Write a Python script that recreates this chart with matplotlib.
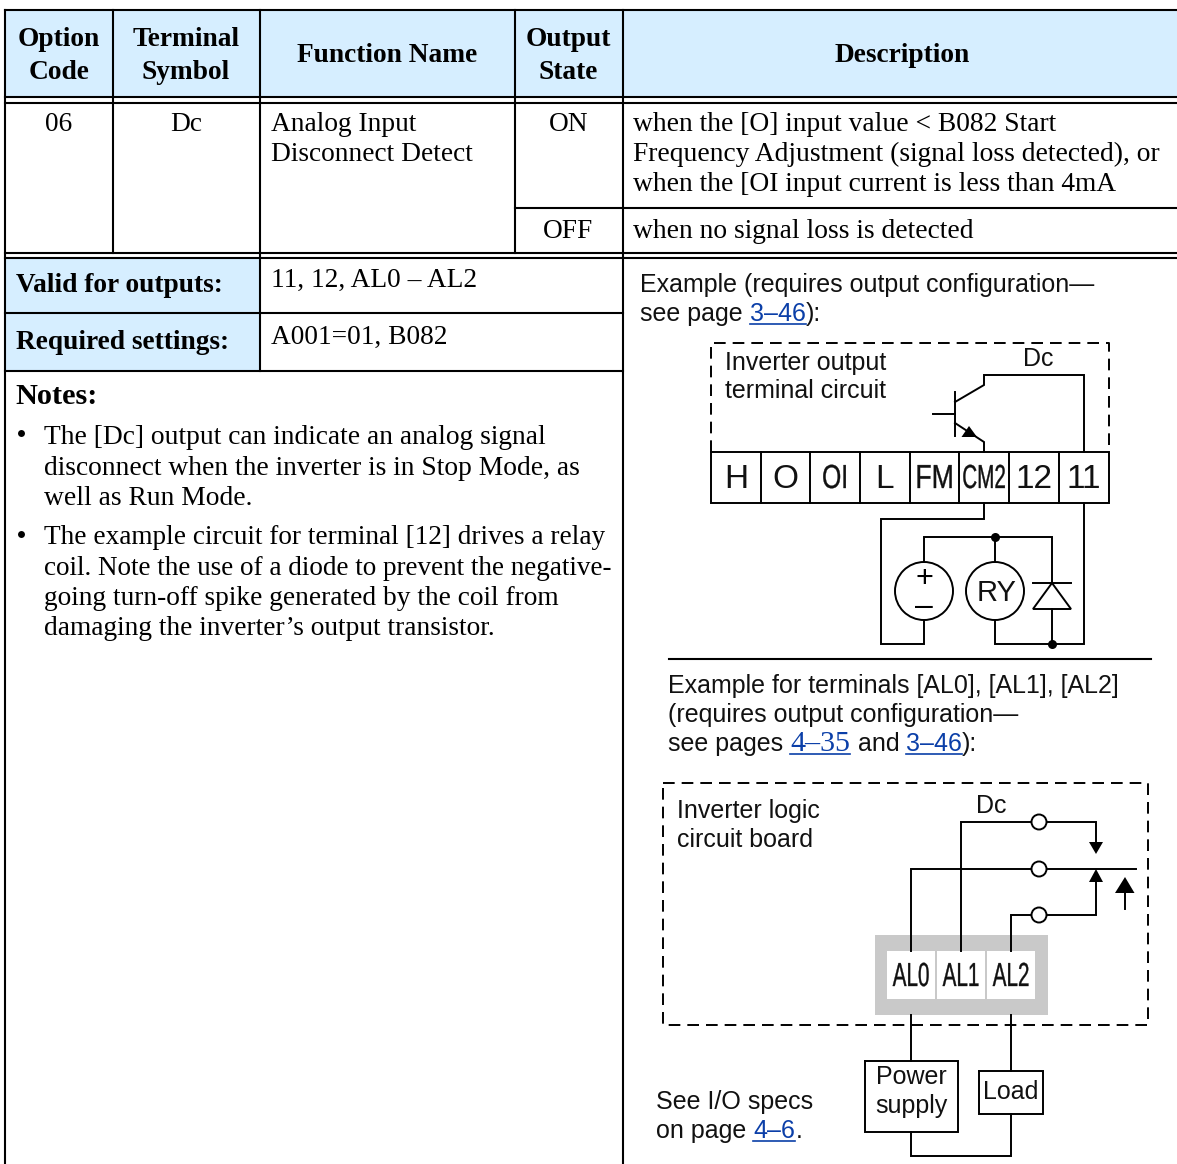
import matplotlib
matplotlib.use('Agg')
import matplotlib.pyplot as plt
import matplotlib.patheffects as pe
from matplotlib.patches import Rectangle, Circle, Polygon
from matplotlib.transforms import Affine2D

SERIF = 'Liberation Serif'
SANS = 'Liberation Sans'
BLUE = '#d6eeff'
LINK = '#0b3fa8'
WIRE = 1.4

# texts of the table
header_labels = ['Option\nCode', 'Terminal\nSymbol', 'Function Name', 'Output\nState', 'Description']
row_code = '06'
row_symbol = 'Dc'
row_function = ['Analog Input', 'Disconnect Detect']
row_states = ['ON', 'OFF']
desc_on = ['when the [O] input value < B082 Start',
           'Frequency Adjustment (signal loss detected), or',
           'when the [OI input current is less than 4mA']
desc_off = 'when no signal loss is detected'
valid_label = 'Valid for outputs:'
valid_value = '11, 12, AL0 – AL2'
required_label = 'Required settings:'
required_value = 'A001=01, B082'
notes_title = 'Notes:'
notes_first = ['The [Dc] output can indicate an analog signal',
               'disconnect when the inverter is in Stop Mode, as',
               'well as Run Mode.']
notes_second = ['The example circuit for terminal [12] drives a relay',
                'coil. Note the use of a diode to prevent the negative-',
                'going turn-off spike generated by the coil from',
                'damaging the inverter’s output transistor.']

# texts of the circuits
terminals = ['H', 'O', 'OI', 'L', 'FM', 'CM2', '12', '11']
terminal_squeeze = [1, 1, 0.74, 1, 0.8, 0.62, 1, 1]
relay_terminals = ['AL0', 'AL1', 'AL2']
box1_label = ['Inverter output', 'terminal circuit']
box2_label = ['Inverter logic', 'circuit board']


class Stretch(pe.AbstractPathEffect):
    # the condensed labels: a smaller font pulled up from its baseline
    def __init__(self, sy, base):
        super().__init__()
        self.sy = sy
        self.base = base

    def draw_path(self, renderer, gc, tpath, affine, rgbFace=None):
        a = affine + Affine2D().translate(0, -self.base).scale(1, self.sy).translate(0, self.base)
        gc.set_linewidth(0.25)
        renderer.draw_path(gc, tpath, a, rgbFace)


fig = plt.figure(figsize=(11.77, 11.64), dpi=100)
ax = fig.add_axes([0, 0, 1, 1])
ax.set_xlim(0, 1177)
ax.set_ylim(1164, 0)
ax.axis('off')


def line(xs, ys, lw=WIRE, **kw):
    ax.plot(xs, ys, color='black', lw=lw, solid_capstyle='projecting',
            solid_joinstyle='miter', **kw)


def tline(xs, ys):
    line(xs, ys, lw=1.5)


def serif(x, y, s, size=19.7, weight='normal', ha='left'):
    return ax.text(x, y, s, family=SERIF, fontsize=size, weight=weight, ha=ha, va='baseline')


def sans(x, y, s, size=18, ha='left', color='#111111'):
    return ax.text(x, y, s, family=SANS, fontsize=size, ha=ha, va='baseline', color=color)


def link(x, y, s, family=SANS, size=18):
    t = ax.text(x, y, s, family=family, fontsize=size, va='baseline', color=LINK)
    bb = t.get_window_extent(fig.canvas.get_renderer())
    ax.plot([bb.x0, bb.x1], [y + 3, y + 3], color=LINK, lw=1.2)


def squeezed(cx, y, s, size, sx):
    t = sans(cx, y, s, size=size * sx, ha='center')
    if sx < 1:
        t.set_path_effects([Stretch(1 / sx, 1164 - y)])


def arrow(pts):
    ax.add_patch(Polygon(pts, closed=True, fc='black', ec='none', zorder=3))


# ---- table fills
ax.add_patch(Rectangle((5, 10), 1172, 87, fc=BLUE, ec='none'))
ax.add_patch(Rectangle((5, 258), 255, 113, fc=BLUE, ec='none'))

# ---- table rules
for y in [10, 97, 103, 253, 258]:
    tline([5, 1177], [y, y])
tline([515, 1177], [208, 208])
tline([260, 623], [313, 313])
tline([5, 260], [313, 313])
tline([5, 623], [371, 371])
tline([5, 5], [10, 1164])
tline([623, 623], [10, 1164])
tline([113, 113], [10, 253])
tline([260, 260], [10, 371])
tline([515, 515], [10, 253])

# ---- header
for cx, lab in zip([59, 186, 387, 568.5, 902], header_labels):
    parts = lab.split('\n')
    if len(parts) == 2:
        serif(cx, 46, parts[0], weight='bold', ha='center')
        serif(cx, 79, parts[1], weight='bold', ha='center')
    else:
        serif(cx, 62, parts[0], weight='bold', ha='center')

# ---- row
serif(59, 131, row_code, ha='center')
serif(186, 131, row_symbol, ha='center')
serif(271, 131, row_function[0])
serif(271, 161, row_function[1])
serif(568.5, 131, row_states[0], ha='center')
serif(568.5, 238, row_states[1], ha='center')
for y, s in zip([131, 161, 191], desc_on):
    serif(633, y, s, size=19.8)
serif(633, 238, desc_off, size=19.8)

# ---- settings
serif(16, 292, valid_label, weight='bold')
serif(16, 349, required_label, weight='bold')
serif(271, 287, valid_value)
serif(271, 344, required_value)

# ---- notes
serif(15.5, 404, notes_title, size=21.8, weight='bold')
for y, s in zip([444, 475, 505], notes_first):
    serif(44, y, s, size=19.8)
for y, s, size in zip([544, 575, 605, 635], notes_second, [19.6, 19.5, 19.7, 19.7]):
    serif(44, y, s, size=size)
ax.plot([20.5, 20.5], [433, 534], ls='none', marker='o', ms=5, color='black', mew=0)

# ---- first example text
sans(640, 292, 'Example (requires output configuration—')
sans(640, 321, 'see page')
link(750, 321, '3–46')
sans(806, 321, '):')

# ---- first circuit
dash = dict(color='black', lw=WIRE, dashes=(6, 3.6))
ax.plot([711, 711, 1109, 1109], [452, 343, 343, 452], **dash)
sans(725, 370, box1_label[0])
sans(725, 398, box1_label[1])
sans(1023, 366, 'Dc')

term_x = [711, 761, 810, 860, 910, 959, 1009, 1059, 1109]
line([711, 1109, 1109, 711, 711], [452, 452, 503, 503, 452])
for x in term_x[1:-1]:
    line([x, x], [452, 503])
for i, lab in enumerate(terminals):
    cx = (term_x[i] + term_x[i + 1]) / 2
    squeezed(cx, 488, lab, 24, terminal_squeeze[i])

# transistor
line([1084, 1084, 984, 984, 955], [452, 375, 375, 385, 402])
line([955, 955], [392, 436])
line([933, 955], [414, 414])
line([955, 984, 984], [423, 442, 452])
arrow([(961.5, 437), (977, 437), (969, 426)])

# relay part
line([984, 984, 881, 881, 924, 924], [503, 519, 519, 644, 644, 619])
line([924, 924, 1052, 1052], [562, 537, 537, 583])
line([995, 995], [537, 562])
line([995, 995, 1084, 1084], [619, 644, 644, 503])
line([1052, 1052], [609, 644])
line([1033, 1071], [583, 583])
ax.add_patch(Polygon([(1052, 583), (1033, 609), (1071, 609)], closed=True, fc='white', ec='black', lw=WIRE))
for cx in [924, 995]:
    ax.add_patch(Circle((cx, 591), 29, fc='white', ec='black', lw=WIRE, zorder=3))
ax.plot([995, 1052], [537, 644], ls='none', marker='o', ms=6.5, color='black', mew=0)
ax.text(924, 587, '+', family=SANS, fontsize=22, ha='center', va='baseline', zorder=4)
ax.text(924, 615, '–', family=SANS, fontsize=23, ha='center', va='baseline', zorder=4)
ax.text(997, 601, 'RY', family=SANS, fontsize=21, ha='center', va='baseline', color='#111111', zorder=4)

# ---- separator and second example text
line([669, 1151], [658.5, 658.5], lw=1.5)
sans(668, 693, 'Example for terminals [AL0], [AL1], [AL2]')
sans(668, 722, '(requires output configuration—')
sans(668, 751, 'see pages')
link(790, 751, '4–35', family=SERIF, size=21.6)
sans(858, 751, 'and')
link(906, 751, '3–46')
sans(962, 751, '):')

# ---- second circuit
ax.plot([663, 1148, 1148, 663, 663], [783, 783, 1025, 1025, 783], **dash)
sans(677, 818, box2_label[0])
sans(677, 847, box2_label[1])
sans(976, 813, 'Dc')

ax.add_patch(Rectangle((875, 935), 173, 80, fc='#c9c9c9', ec='none'))
for x, lab in zip([887, 937, 987], relay_terminals):
    ax.add_patch(Rectangle((x, 951), 48, 48, fc='white', ec='none'))
    squeezed(x + 24, 986, lab, 24, 0.62)

line([911, 911, 1136], [951, 869, 869])
line([961, 961, 1096, 1096], [951, 822, 822, 844])
line([1011, 1011, 1096, 1096], [951, 915, 915, 880])
arrow([(1089, 842), (1103, 842), (1096, 854)])
arrow([(1089, 882), (1103, 882), (1096, 869)])
line([1125, 1125], [909, 892])
arrow([(1115, 893), (1134.5, 893), (1125, 877)])
for y in [822, 869, 915]:
    ax.add_patch(Circle((1039, y), 7.5, fc='white', ec='black', lw=WIRE, zorder=3))

# power supply and load
line([911, 911], [1015, 1061])
line([865, 958, 958, 865, 865], [1061, 1061, 1132, 1132, 1061])
line([911, 911, 1011, 1011], [1132, 1156, 1156, 1114])
line([1011, 1011], [1015, 1071])
line([979, 1043, 1043, 979, 979], [1071, 1071, 1114, 1114, 1071])
sans(911, 1084, 'Power', ha='center')
sans(911, 1113, 'supply', ha='center')
sans(1011, 1099, 'Load', ha='center')

sans(656, 1109, 'See I/O specs')
sans(656, 1138, 'on page')
link(753, 1138, '4–6')
sans(796, 1138, '.')

fig.savefig('out.png', dpi=100)
